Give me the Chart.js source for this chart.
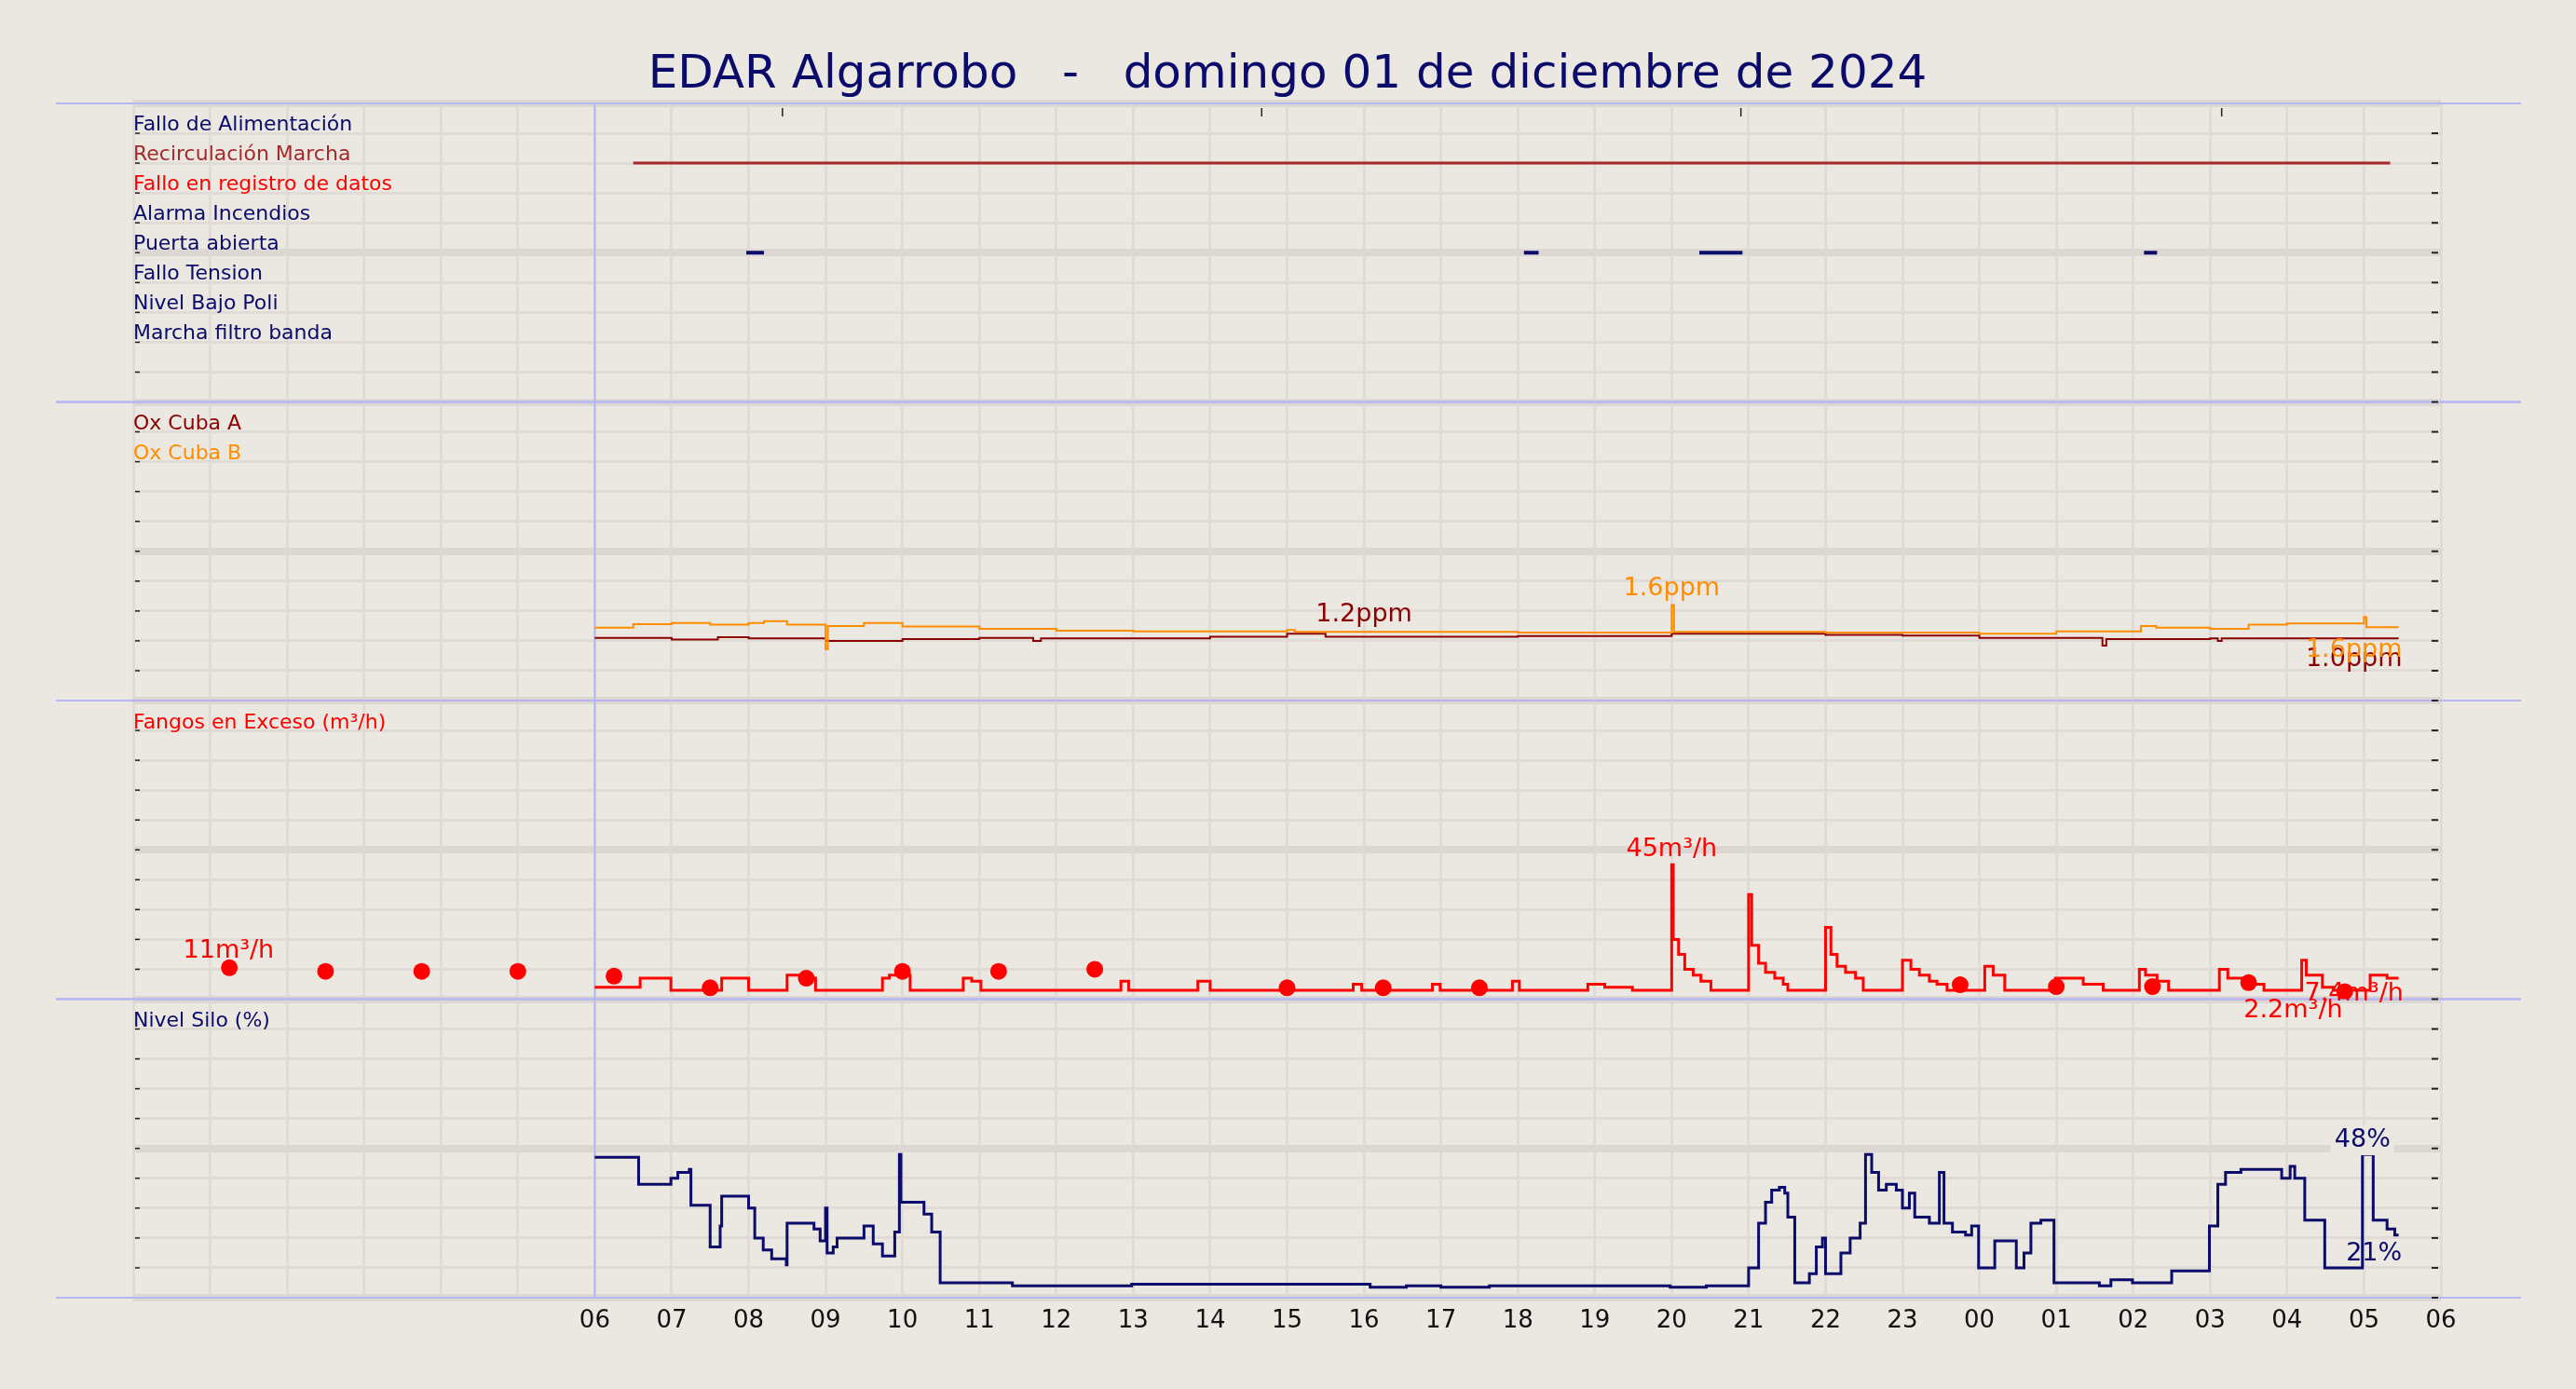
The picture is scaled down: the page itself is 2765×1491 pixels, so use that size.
<!DOCTYPE html>
<html><head><meta charset="utf-8">
<script src="https://cdn.jsdelivr.net/npm/chart.js@4.4.1/dist/chart.umd.min.js"></script>
<style>html,body{margin:0;padding:0;background:#ebe7e1;overflow:hidden}</style>
</head><body>
<canvas id="c" width="2765" height="1491"></canvas>
<script>
const TITLE = "EDAR Algarrobo   -   domingo 01 de diciembre de 2024";
const signalNames = ["Fallo de Alimentación","Recirculación Marcha","Fallo en registro de datos","Alarma Incendios","Puerta abierta","Fallo Tension","Nivel Bajo Poli","Marcha filtro banda"];
const signalColors = ["#0b0b6b","#a52a2a","#ff0000","#0b0b6b","#0b0b6b","#0b0b6b","#0b0b6b","#0b0b6b"];
const recirc = [[6.5,29.34]];
const puerta = [[7.97,8.2],[18.08,18.27],[20.36,20.92],[26.14,26.31]];
const topTicks = [8.44,14.67,20.9,27.15];

const oxA = [[6.0,1.05],[7.0,1.02],[7.6,1.06],[8,1.04],[9,1.0],[10,1.03],[11,1.05],[11.7,1.0],[11.8,1.04],[14,1.07],[15,1.12],[15.5,1.07],[18,1.08],[20,1.12],[22,1.1],[23,1.09],[24,1.05],[25.6,0.92],[25.65,1.03],[27,1.04],[27.1,1.0],[27.15,1.04],[28,1.04],[29.45,1.04]];
const oxB = [[6.0,1.22],[6.5,1.28],[7.0,1.3],[7.5,1.27],[8.0,1.3],[8.2,1.33],[8.5,1.27],[9.0,0.86],[9.03,1.25],[9.5,1.3],[10.0,1.24],[11.0,1.2],[12.0,1.17],[13,1.16],[15,1.18],[15.1,1.15],[18,1.14],[20.0,1.6],[20.03,1.15],[22,1.14],[24,1.12],[25,1.16],[26.1,1.25],[26.3,1.22],[27.0,1.2],[27.5,1.27],[28,1.29],[29,1.4],[29.03,1.23],[29.45,1.23]];

const fangos = [[6.0,4],[6.59,7],[6.99,3],[7.65,7],[8.0,3],[8.5,8],[8.72,7],[8.87,3],[9.74,7],[9.83,8],[10.1,3],[10.79,7],[10.9,6],[11.02,3],[12.84,6],[12.94,3],[13.84,6],[14.0,3],[15.86,5],[15.97,3],[16.89,5],[16.99,3],[17.93,6],[18.02,3],[18.91,5],[19.13,4],[19.49,3],[20.0,45],[20.02,20],[20.09,15],[20.17,10],[20.28,8],[20.38,6],[20.51,3],[21.0,35],[21.04,18],[21.13,12],[21.22,9],[21.34,7],[21.45,5],[21.51,3],[22.0,24],[22.07,15],[22.15,11],[22.26,9],[22.39,7],[22.49,3],[23.0,13],[23.11,10],[23.22,8],[23.35,6],[23.45,5],[23.58,3],[24.07,11],[24.18,8],[24.33,3],[24.99,7],[25.35,5],[25.61,3],[26.08,10],[26.16,8],[26.31,6],[26.46,3],[27.12,10],[27.23,7],[27.48,5],[27.7,3],[28.19,13],[28.25,8],[28.46,4],[28.6,3],[29.08,8],[29.3,7],[29.45,7]];
const fangosDots = [[1.25,10.5],[2.5,9.3],[3.75,9.3],[5,9.3],[6.25,7.7],[7.5,3.8],[8.75,7],[10,9.3],[11.25,9.3],[12.5,10],[15,3.8],[16.25,3.8],[17.5,3.8],[23.75,4.8],[25,4.2],[26.25,4.2],[27.5,5.5],[28.75,2.5]];

const silo = [[6.0,47],[6.57,38],[6.99,40],[7.08,42],[7.23,43],[7.25,31],[7.5,17],[7.63,24],[7.65,34],[8.0,30],[8.08,20],[8.19,16],[8.3,13],[8.49,11],[8.5,25],[8.85,23],[8.93,19],[9.0,30],[9.02,15],[9.1,17],[9.15,20],[9.5,24],[9.62,18],[9.74,14],[9.9,22],[9.96,48],[9.98,32],[10.28,28],[10.38,22],[10.49,5],[11.43,4],[12.98,4.5],[16.08,3.5],[16.55,4],[17.0,3.5],[17.63,4],[19.98,3.5],[20.45,4],[21.0,10],[21.13,25],[21.22,32],[21.3,36],[21.4,37],[21.47,35],[21.51,27],[21.6,5],[21.79,8],[21.88,17],[21.96,20],[22.0,8],[22.2,15],[22.32,20],[22.45,25],[22.52,48],[22.6,42],[22.69,36],[22.79,38],[22.92,36],[23.0,30],[23.09,35],[23.16,27],[23.35,25],[23.48,42],[23.54,25],[23.65,22],[23.82,21],[23.9,24],[23.99,10],[24.2,19],[24.48,10],[24.58,15],[24.67,25],[24.8,26],[24.97,5],[25.56,4],[25.71,6],[25.99,5],[26.5,9],[26.99,24],[27.1,38],[27.2,42],[27.4,43],[27.93,40],[28.04,44],[28.1,40],[28.23,26],[28.49,10],[28.98,48],[29.12,26],[29.3,23],[29.4,21],[29.45,21]];

const labels = [
 {t:"11m³/h",x:1.24,y:16,ax:"yF",c:"#ff0000"},
 {t:"45m³/h",x:20.0,y:50,ax:"yF",c:"#ff0000"},
 {t:"2.2m³/h",x:28.08,y:-3.8,ax:"yF",c:"#ff0000"},
 {t:"7.4m³/h",x:28.87,y:1.6,ax:"yF",c:"#ff0000"},
 {t:"48%",x:28.98,y:52.7,ax:"yS",c:"#0b0b6b",bg:true},
 {t:"21%",x:29.13,y:14.8,ax:"yS",c:"#0b0b6b"},
 {t:"1.2ppm",x:16.0,y:1.43,ax:"yO",c:"#8b0000"},
 {t:"1.6ppm",x:20.0,y:1.87,ax:"yO",c:"#ff8c00"},
 {t:"1.0ppm",x:28.87,y:0.69,ax:"yO",c:"#8b0000"},
 {t:"1.6ppm",x:28.87,y:0.85,ax:"yO",c:"#ff8c00"}
];
const panelLegends = [
 {ax:"yO",items:[["Ox Cuba A","#8b0000"],["Ox Cuba B","#ff8c00"]]},
 {ax:"yF",items:[["Fangos en Exceso (m³/h)","#ff0000"]]},
 {ax:"yS",items:[["Nivel Silo (%)","#0b0b6b"]]}
];

const FONT = "DejaVu Sans";
const pts = a => a.map(p => ({x:p[0], y:p[1]}));
const datasets = [];
recirc.forEach(s => datasets.push({data:[{x:s[0],y:8},{x:s[1],y:8}],yAxisID:"yT",borderColor:"#a52a2a",borderWidth:3,pointRadius:0}));
puerta.forEach(s => datasets.push({data:[{x:s[0],y:5},{x:s[1],y:5}],yAxisID:"yT",borderColor:"#0b0b6b",borderWidth:4,pointRadius:0}));
datasets.push({data:pts(oxB),yAxisID:"yO",borderColor:"#ff8c00",borderWidth:2,pointRadius:0,stepped:"before"});
datasets.push({data:pts(oxA),yAxisID:"yO",borderColor:"#8b0000",borderWidth:2,pointRadius:0,stepped:"before"});
datasets.push({data:pts(fangos),yAxisID:"yF",borderColor:"#ff0000",borderWidth:3,pointRadius:0,stepped:"before"});
datasets.push({data:pts(fangosDots),yAxisID:"yF",showLine:false,pointRadius:9,pointBackgroundColor:"#ff0000",pointBorderWidth:0});
datasets.push({data:pts(silo),yAxisID:"yS",borderColor:"#0b0b6b",borderWidth:3,pointRadius:0,stepped:"before"});

const gridC = "#e0dbd7";
function yAxis(min,max){
  return {type:"linear",min,max,stack:"p",stackWeight:1,position:"left",
    ticks:{display:false,stepSize:(max-min)/10},
    border:{display:false},
    grid:{drawTicks:false,color:c=>c.index===5||c.index===0||c.index===10?"#ddd7d3":gridC,lineWidth:c=>c.index===5||c.index===0||c.index===10?8:3},
    afterFit:s=>{s.width=0;}};
}

const deco = {
  id:"deco",
  beforeDraw(chart){
    const ctx=chart.ctx; ctx.save(); ctx.fillStyle="#ebe7e1"; ctx.fillRect(0,0,chart.width,chart.height); ctx.restore();
  },
  beforeDatasetsDraw(chart){
    const ctx=chart.ctx, a=chart.chartArea, x=chart.scales.x;
    ctx.save();
    ctx.strokeStyle="#b6b6f2"; ctx.lineWidth=2;
    ["yT","yO","yF","yS"].forEach(id=>{
      const s=chart.scales[id];
      [s.top,s.bottom].forEach(y=>{ctx.beginPath();ctx.moveTo(60,y);ctx.lineTo(2706,y);ctx.stroke();});
    });
    const x6=x.getPixelForValue(6);
    ctx.beginPath();ctx.moveTo(x6,a.top);ctx.lineTo(x6,a.bottom);ctx.stroke();
    ctx.strokeStyle="#222"; ctx.lineWidth=2;
    ["yT","yO","yF","yS"].forEach(id=>{
      const s=chart.scales[id];
      s.ticks.forEach(t=>{const y=s.getPixelForValue(t.value); if(Math.abs(y-s.top)<3) return; ctx.beginPath();ctx.moveTo(a.right-10,y);ctx.lineTo(a.right-3,y);ctx.stroke();});
    });
    ctx.lineWidth=1.5;
    ["yT","yO","yF","yS"].forEach(id=>{
      const s=chart.scales[id];
      s.ticks.forEach(t=>{const y=s.getPixelForValue(t.value); if(Math.abs(y-s.top)<3||Math.abs(y-s.bottom)<3) return; ctx.beginPath();ctx.moveTo(a.left+2,y);ctx.lineTo(a.left+7,y);ctx.stroke();});
    });
    const yT=chart.scales.yT;
    topTicks.forEach(h=>{const px=x.getPixelForValue(h);ctx.beginPath();ctx.moveTo(px,yT.top+5);ctx.lineTo(px,yT.top+14);ctx.stroke();});
    ctx.restore();
  },
  afterDatasetsDraw(chart){
    const ctx=chart.ctx, a=chart.chartArea, x=chart.scales.x;
    ctx.save();
    ctx.font="50px '"+FONT+"'"; ctx.fillStyle="#0b0b6b"; ctx.textAlign="center"; ctx.textBaseline="middle";
    ctx.fillText(TITLE,1382,81);
    ctx.font="22px '"+FONT+"'"; ctx.textAlign="left"; ctx.textBaseline="middle";
    const yT=chart.scales.yT;
    signalNames.forEach((n,i)=>{ctx.fillStyle=signalColors[i]; ctx.fillText(n,a.left,yT.getPixelForValue(9-i)-9);});
    panelLegends.forEach(p=>{const s=chart.scales[p.ax]; p.items.forEach((it,i)=>{ctx.fillStyle=it[1]; ctx.fillText(it[0],a.left,s.top+24+i*32);});});
    ctx.font="27px '"+FONT+"'"; ctx.textAlign="center";
    labels.forEach(l=>{
      const px=x.getPixelForValue(l.x), py=chart.scales[l.ax].getPixelForValue(l.y);
      if(l.bg){const w=ctx.measureText(l.t).width; ctx.fillStyle="#ebe7e1"; ctx.fillRect(px-w/2-4,py-16,w+8,32);}
      ctx.fillStyle=l.c; ctx.fillText(l.t,px,py);
    });
    ctx.restore();
  }
};

new Chart(document.getElementById("c"),{
  type:"line",
  data:{datasets},
  plugins:[deco],
  options:{
    responsive:false, devicePixelRatio:1, animation:false,
    layout:{padding:{left:143,right:145,top:111,bottom:0}},
    plugins:{legend:{display:false},tooltip:{enabled:false}},
    elements:{line:{tension:0,fill:false}},
    scales:{
      x:{type:"linear",min:0,max:30,position:"bottom",
        ticks:{stepSize:1,autoSkip:false,maxRotation:0,color:"#111",font:{family:FONT,size:26},padding:10,
          callback:v=>v>=6?String(v%24).padStart(2,"0"):""},
        grid:{drawTicks:false,color:gridC,lineWidth:3},border:{display:false},
        afterFit:s=>{s.height=98;}},
      yS:yAxis(0,100),
      yF:yAxis(0,100),
      yO:yAxis(0,5),
      yT:yAxis(0,10)
    }
  }
});
</script>
</body></html>
